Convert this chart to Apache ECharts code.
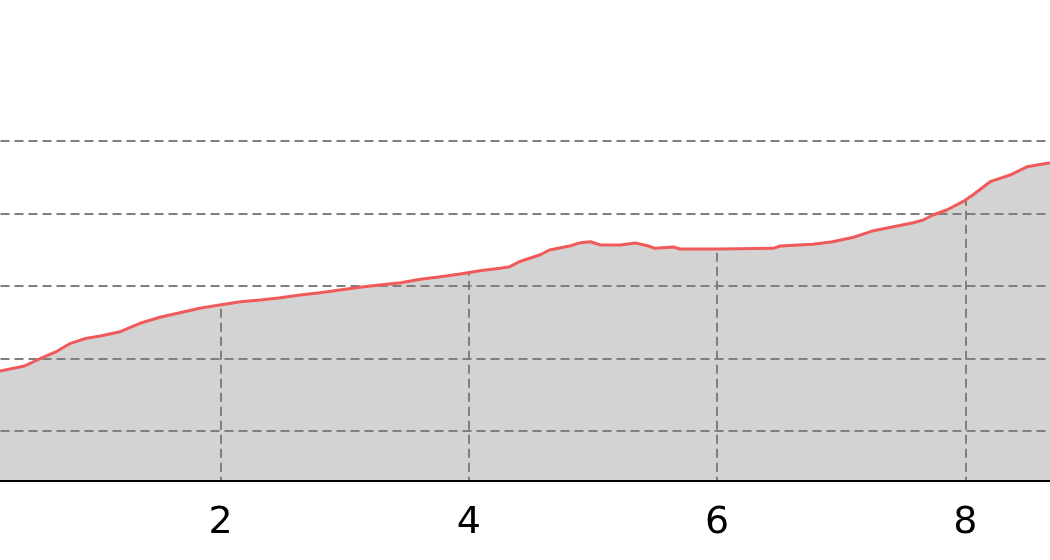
<!DOCTYPE html>
<html>
<head>
<meta charset="utf-8">
<script src="https://cdn.jsdelivr.net/npm/echarts@6/dist/echarts.min.js"></script>
<style>
  html, body { margin: 0; padding: 0; background: #ffffff; }
  #chart { width: 1050px; height: 560px; }
</style>
</head>
<body>
<div id="chart"></div>
<script>
// x positions of the samples (axis units)
const xValues = [0.14, 0.22, 0.42, 0.54, 0.67, 0.79, 0.91, 1.03, 1.19, 1.35, 1.51, 1.67, 1.83, 1.99,
  2.16, 2.32, 2.48, 2.64, 2.80, 2.96, 3.12, 3.28, 3.45, 3.61, 3.77, 3.93, 4.09, 4.25, 4.33, 4.41,
  4.57, 4.65, 4.82, 4.90, 4.98, 5.06, 5.22, 5.34, 5.44, 5.50, 5.65, 5.70, 6.02, 6.45, 6.51, 6.77,
  6.93, 7.10, 7.26, 7.42, 7.58, 7.66, 7.74, 7.85, 7.98, 8.06, 8.20, 8.36, 8.50, 8.66, 8.76];
// series values
const yValues = [17.99, 18.27, 18.96, 19.92, 20.89, 22.08, 22.75, 23.09, 23.68, 24.84, 25.67, 26.30,
  26.91, 27.36, 27.82, 28.05, 28.37, 28.74, 29.06, 29.43, 29.80, 30.12, 30.43, 30.90, 31.26, 31.63,
  32.09, 32.42, 32.64, 33.36, 34.25, 34.94, 35.53, 35.95, 36.08, 35.63, 35.63, 35.90, 35.53, 35.17,
  35.35, 35.08, 35.08, 35.17, 35.49, 35.73, 36.08, 36.69, 37.60, 38.15, 38.70, 39.07, 39.76, 40.45,
  41.60, 42.52, 44.35, 45.27, 46.42, 46.89, 47.07];
// tick labels shown on the x axis
const xTickLabels = ['0', '2', '4', '6', '8'];

const data = xValues.map((x, i) => [x, yValues[i]]);

const chart = echarts.init(document.getElementById('chart'), null, { renderer: 'canvas' });
const dashed = { color: '#7f7f7f', width: 2, type: [9, 5] };

chart.setOption({
  animation: false,
  backgroundColor: '#ffffff',
  grid: { left: -27.5, right: -2.2, top: 140.7, bottom: 79.3, containLabel: false, outerBoundsMode: 'none' },
  xAxis: {
    type: 'value', min: 0, max: 8.7, interval: 2, z: 2,
    axisLine: { show: true, onZero: false, lineStyle: { color: '#000000', width: 2 } },
    axisTick: { show: false },
    axisLabel: {
      show: true, margin: 23, color: '#000000', fontFamily: 'DejaVu Sans', fontSize: 38,
      showMaxLabel: false, showMinLabel: false,
      formatter: v => { const i = Math.round(v / 2); return (Math.abs(v - i * 2) < 1e-6 && xTickLabels[i]) ? xTickLabels[i] : ''; }
    },
    splitLine: { show: true, showMaxLine: false, lineStyle: dashed }
  },
  yAxis: {
    type: 'value', min: 3.15, max: 50, z: 4,
    axisLine: { show: false },
    axisTick: { show: false },
    axisLabel: { show: false },
    splitLine: { show: true, showMinLine: false, lineStyle: dashed }
  },
  series: [
    {
      // grey fill under the curve
      type: 'line', data: data, showSymbol: false, z: 1, silent: true,
      lineStyle: { width: 0, opacity: 0 },
      areaStyle: { color: '#d3d3d3', opacity: 1, origin: 'start' }
    },
    {
      // white region above the curve (hides vertical grid lines there)
      type: 'line', data: data, showSymbol: false, z: 3, silent: true,
      lineStyle: { width: 0, opacity: 0 },
      areaStyle: { color: '#ffffff', opacity: 1, origin: 'end' }
    },
    {
      type: 'line', data: data, showSymbol: false, z: 5,
      lineStyle: { color: '#f05a5a', width: 3 }
    }
  ]
});
</script>
</body>
</html>
